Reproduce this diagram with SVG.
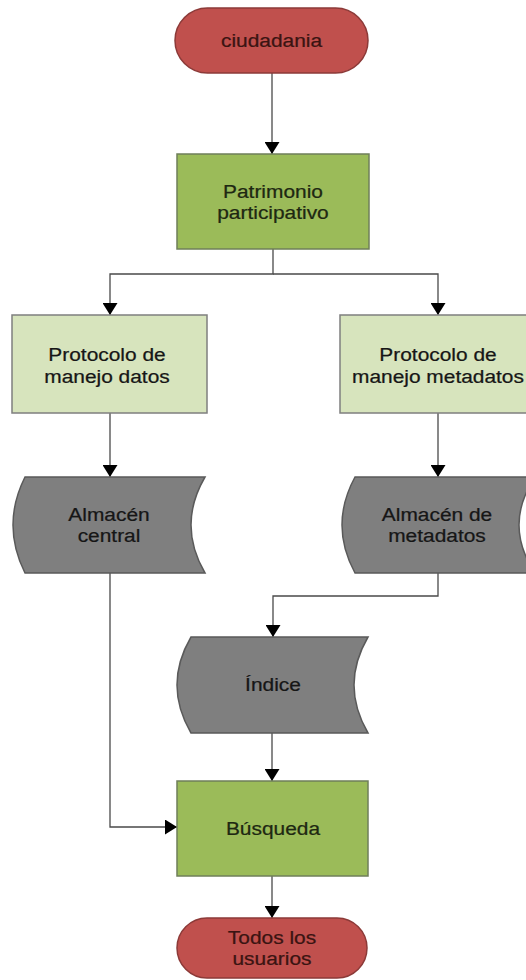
<svg xmlns="http://www.w3.org/2000/svg" width="526" height="980" viewBox="0 0 526 980">
<defs>
<style>
.term{fill:#c0504d;stroke:#8c3a38;stroke-width:1.5}
.proc{fill:#9bbb59;stroke:#6f7f5a;stroke-width:1.5}
.proto{fill:#d7e4bd;stroke:#7f7f7f;stroke-width:1.5}
.store{fill:#7f7f7f;stroke:#5a5a5a;stroke-width:1.5}
.conn{fill:none;stroke:#4a4a4a;stroke-width:1.3}
text{font-family:"Liberation Sans",Arial,sans-serif;font-size:19px;text-anchor:middle;stroke-width:0.25}
.tr{fill:#3a1412;stroke:#3a1412}
.tg{fill:#1e2812;stroke:#1e2812}
.tk{fill:#161616;stroke:#161616}
</style>
<marker id="arr" markerUnits="userSpaceOnUse" markerWidth="12" markerHeight="15" refX="12" refY="7.5" orient="auto">
<path d="M0,0 L12,7.5 L0,15 Z" fill="#000"/>
</marker>
</defs>
<rect width="526" height="980" fill="#fff"/>
<g id="connectors">
<path class="conn" d="M272,73 V154" marker-end="url(#arr)"/>
<path class="conn" d="M273,249 V274 H110 V315" marker-end="url(#arr)"/>
<path class="conn" d="M273,274 H438 V315" marker-end="url(#arr)"/>
<path class="conn" d="M110,413 V477" marker-end="url(#arr)"/>
<path class="conn" d="M438,413 V477" marker-end="url(#arr)"/>
<path class="conn" d="M438,573 V596 H273 V637" marker-end="url(#arr)"/>
<path class="conn" d="M110,573 V827 H177" marker-end="url(#arr)"/>
<path class="conn" d="M272,733 V781" marker-end="url(#arr)"/>
<path class="conn" d="M272,876 V918" marker-end="url(#arr)"/>
</g>
<g id="ciudadania">
<rect class="term" x="175" y="8" width="193" height="65" rx="32.5"/>
<text class="tr" transform="matrix(1.1 0 0 1 -27.15 0)" x="271.5" y="47">ciudadania</text>
</g>
<g id="patrimonio">
<rect class="proc" x="177" y="154" width="192" height="95"/>
<text class="tg" transform="matrix(1.1 0 0 1 -27.3 0)" x="273" y="198">Patrimonio</text>
<text class="tg" transform="matrix(1.1 0 0 1 -27.3 0)" x="273" y="219">participativo</text>
</g>
<g id="protocolo-datos">
<rect class="proto" x="12" y="315" width="195" height="98"/>
<text class="tk" transform="matrix(1.1 0 0 1 -10.7 0)" x="107" y="361">Protocolo de</text>
<text class="tk" transform="matrix(1.1 0 0 1 -10.7 0)" x="107" y="383">manejo datos</text>
</g>
<g id="protocolo-metadatos">
<rect class="proto" x="340" y="315" width="196" height="98"/>
<text class="tk" transform="matrix(1.1 0 0 1 -43.8 0)" x="438" y="361">Protocolo de</text>
<text class="tk" transform="matrix(1.1 0 0 1 -43.8 0)" x="438" y="383">manejo metadatos</text>
</g>
<g id="almacen-central">
<path class="store" d="M25,477 H205 Q177,525 205,573 H25 Q1,525 25,477 Z"/>
<text class="tk" transform="matrix(1.1 0 0 1 -10.9 0)" x="109" y="521">Almacén</text>
<text class="tk" transform="matrix(1.1 0 0 1 -10.9 0)" x="109" y="542">central</text>
</g>
<g id="almacen-metadatos">
<path class="store" d="M355,477 H535 Q503,525 535,573 H355 Q329,525 355,477 Z"/>
<text class="tk" transform="matrix(1.1 0 0 1 -43.7 0)" x="437" y="521">Almacén de</text>
<text class="tk" transform="matrix(1.1 0 0 1 -43.7 0)" x="437" y="542">metadatos</text>
</g>
<g id="indice">
<path class="store" d="M191,637 H368 Q340,685 368,733 H191 Q163,685 191,637 Z"/>
<text class="tk" transform="matrix(1.1 0 0 1 -27.3 0)" x="273" y="691">Índice</text>
</g>
<g id="busqueda">
<rect class="proc" x="177" y="781" width="191" height="95"/>
<text class="tg" transform="matrix(1.1 0 0 1 -27.3 0)" x="273" y="835">Búsqueda</text>
</g>
<g id="todos">
<rect class="term" x="177" y="918" width="190" height="60" rx="30"/>
<text class="tr" transform="matrix(1.1 0 0 1 -27.2 0)" x="272" y="944">Todos los</text>
<text class="tr" transform="matrix(1.1 0 0 1 -27.2 0)" x="272" y="965">usuarios</text>
</g>
</svg>
